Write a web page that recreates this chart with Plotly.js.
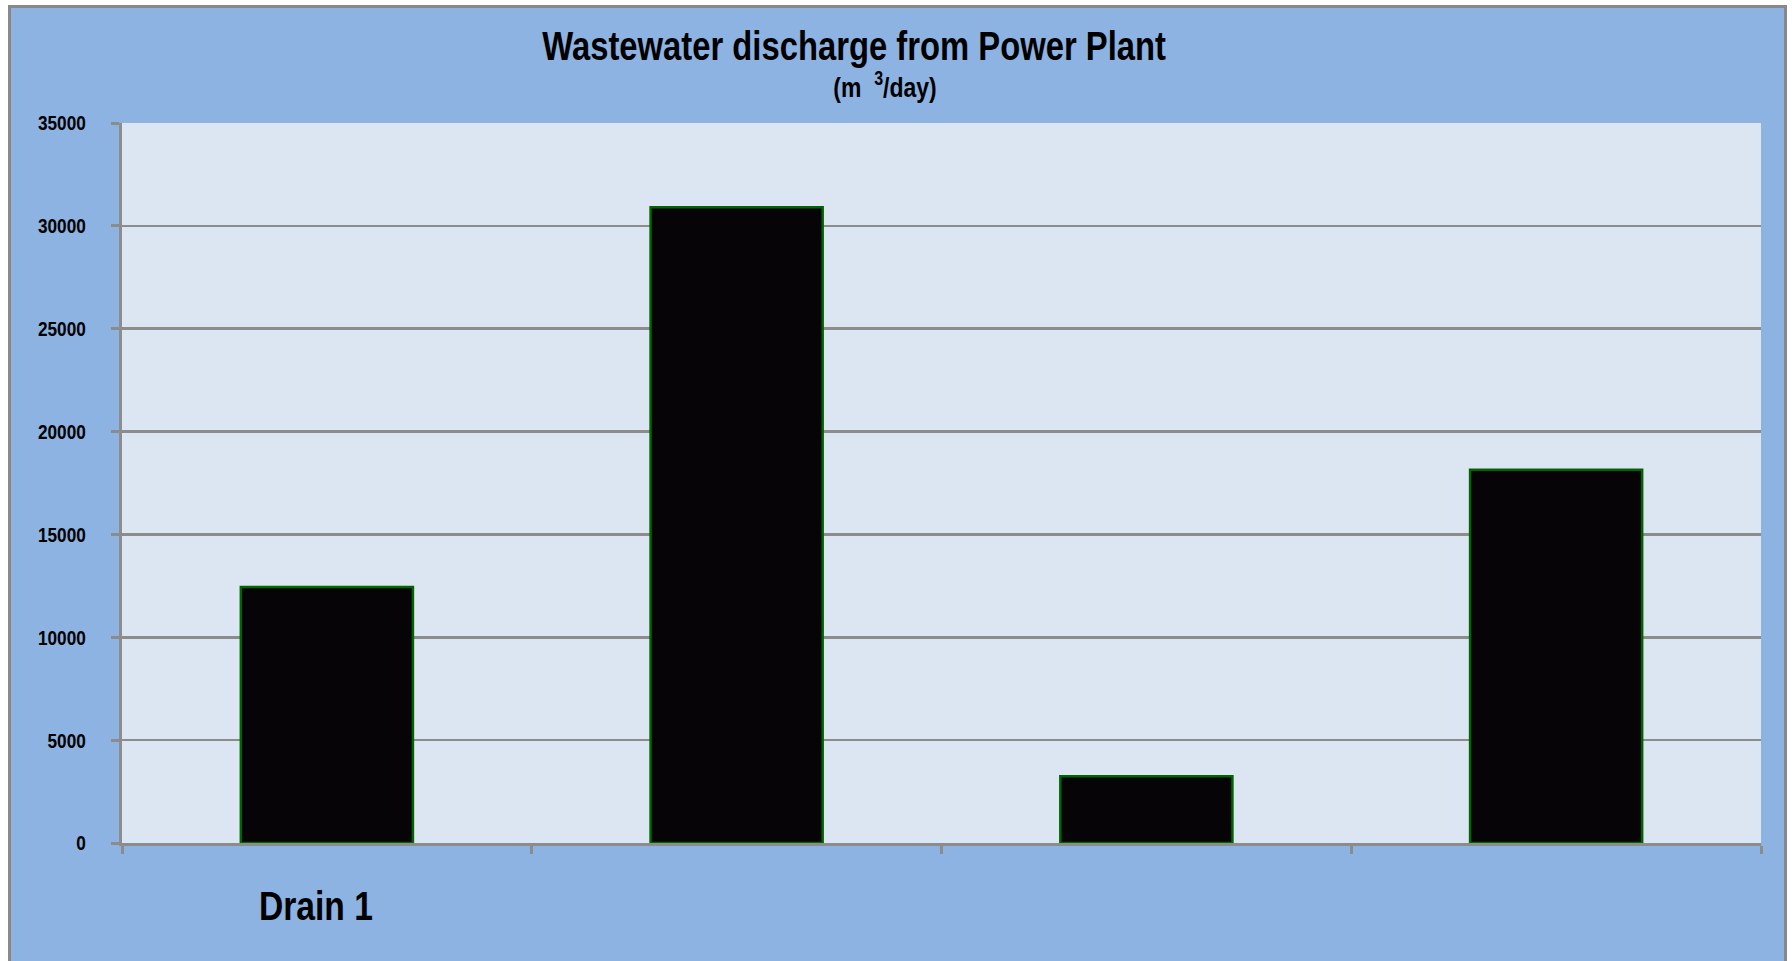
<!DOCTYPE html>
<html>
<head>
<meta charset="utf-8">
<script src="https://cdn.plot.ly/plotly-3.0.1.min.js"></script>
<style>
  html, body { margin: 0; padding: 0; background: #ffffff; }
  #frame { position: absolute; left: 8px; top: 5px; width: 1779px; height: 980px;
           background: #8DB3E2; border: 3px solid #888888; box-sizing: border-box; }
  #chart { position: absolute; left: 0; top: 0; width: 1792px; height: 961px; }
</style>
</head>
<body>
<div id="frame"></div>
<div id="chart"></div>
<script>
const categories = ["Drain 1", "Drain 2", "Drain 3", "Drain 4"];
const tickLabels = ["Drain 1", "", "", ""];
const discharge = [12450, 30900, 3250, 18150];
const yTicks = [0, 5000, 10000, 15000, 20000, 25000, 30000, 35000];
const titleText = "Wastewater discharge from Power Plant";
const unitText = "(m  <sup>3</sup>/day)";

const FONT = "'Liberation Sans', Arial, sans-serif";
const NARROW = 0.82; // horizontal squeeze to mimic Arial Narrow

const trace = {
  type: "bar",
  x: categories,
  y: discharge,
  width: 0.42,
  marker: { color: "#070407", line: { color: "#006400", width: 2.5 } },
  hoverinfo: "x+y"
};

const layout = {
  width: 1792, height: 961,
  paper_bgcolor: "rgba(0,0,0,0)",
  plot_bgcolor: "#DCE6F2",
  margin: { l: 122, r: 31, t: 123, b: 118 },
  showlegend: false,
  title: {
    text: titleText,
    x: 0.4766, xanchor: "center", xref: "container",
    y: 1 - 46 / 961, yanchor: "middle", yref: "container",
    font: { family: FONT, size: 40, weight: "bold", color: "#000000" }
  },
  annotations: [{
    text: unitText, xref: "paper", yref: "paper",
    x: (885 - 122) / 1639, y: 1 + (123 - 85) / 720,
    xanchor: "center", yanchor: "middle", showarrow: false,
    font: { family: FONT, size: 28, weight: "bold", color: "#000000" }
  }],
  xaxis: {
    type: "category",
    tickmode: "array", tickvals: categories, ticktext: tickLabels,
    range: [-0.5, 3.5],
    tickson: "boundaries",
    ticks: "outside", ticklen: 8, tickwidth: 3, tickcolor: "#8C8C8C",
    showline: true, linecolor: "#8C8C8C", linewidth: 3,
    showgrid: false, zeroline: false,
    ticklabelstandoff: 25,
    ticklabelshift: -11,
    tickfont: { family: FONT, size: 41, weight: "bold", color: "#000000" },
    fixedrange: true
  },
  yaxis: {
    range: [0, 35000],
    tickmode: "array", tickvals: yTicks, ticktext: yTicks.map(String),
    ticks: "outside", ticklen: 8, tickwidth: 3, tickcolor: "#8C8C8C",
    showline: true, linecolor: "#8C8C8C", linewidth: 3,
    showgrid: true, gridcolor: "#8C8C8C", gridwidth: 2.5,
    zeroline: false,
    ticklabelstandoff: 21,
    tickfont: { family: FONT, size: 21, weight: "bold", color: "#000000" },
    fixedrange: true
  },
  bargap: 0.58
};

function narrowTexts() {
  document.querySelectorAll("#chart svg text").forEach(function (t) {
    if (t.getAttribute("data-narrowed")) return;
    const ax = parseFloat(t.getAttribute("x")) || 0;
    const prev = t.getAttribute("transform") || "";
    t.setAttribute("transform", prev + " translate(" + ax + ",0) scale(" + NARROW + ",1) translate(" + (-ax) + ",0)");
    t.setAttribute("data-narrowed", "1");
  });
}

Plotly.newPlot("chart", [trace], layout, { displayModeBar: false, staticPlot: true })
  .then(narrowTexts);
</script>
</body>
</html>
